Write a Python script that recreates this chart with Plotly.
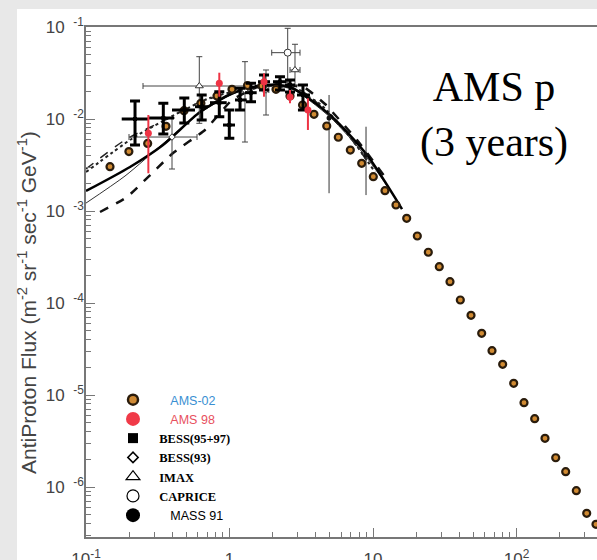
import plotly.graph_objects as go
import numpy as np

# ---------------- data ----------------
ams02_E = [0.147, 0.199, 0.269, 0.361, 0.482, 0.632, 0.818, 1.041, 1.335, 1.685,
           2.109, 2.64, 3.23, 3.88, 4.76, 5.73, 6.95, 8.34, 10.05, 12.12,
           14.46, 17.17, 20.36, 24.29, 28.97, 34.4, 40.6, 48.2, 57.2, 67.5,
           80.1, 95.6, 112.8, 133.9, 158.0, 187.6, 220.2, 261.1, 308.5, 358]
ams02_F = [3.03e-3, 4.43e-3, 5.42e-3, 8.33e-3, 1.231e-2, 1.482e-2, 1.778e-2, 2.103e-2, 2.312e-2, 2.284e-2,
           2.103e-2, 1.778e-2, 1.42e-2, 1.125e-2, 8.39e-3, 6.33e-3, 4.60e-3, 3.30e-3, 2.36e-3, 1.662e-3,
           1.162e-3, 8.33e-4, 5.35e-4, 3.56e-4, 2.48e-4, 1.704e-4, 1.078e-4, 7.35e-5, 4.68e-5, 3.03e-5,
           2.157e-5, 1.340e-5, 8.25e-6, 5.53e-6, 3.38e-6, 2.08e-6, 1.467e-6, 9.12e-7, 5.18e-7, 3.93e-7]

ams98_E = [0.272, 0.849, 1.74, 2.64, 3.52]
ams98_F = [0.00699, 0.02443, 0.02543, 0.01734, 0.01252]
ams98_Flo = [0.00257, 0.01747, 0.01747, 0.01482, 0.0076]
ams98_Fhi = [0.01105, 0.03186, 0.03138, 0.02066, 0.01679]

bess9597_E = [0.2196, 0.3458, 0.4842, 0.640, 0.849, 0.997, 1.184, 1.412, 1.74, 2.248, 2.64, 3.25]
bess9597_Elo = [0.1774, 0.2748, 0.3975, 0.575, 0.731, 0.901, 1.092, 1.282, 1.58, 2.01, 2.437, 2.954]
bess9597_Ehi = [0.2748, 0.4104, 0.575, 0.708, 0.956, 1.092, 1.318, 1.547, 1.915, 2.504, 2.86, 3.64]
bess9597_F = [0.0100, 0.01025, 0.01252, 0.0136, 0.01504, 0.0086, 0.0161, 0.01932, 0.02543, 0.02543, 0.02343, 0.01824]
bess9597_Flo = [0.00522, 0.00687, 0.00905, 0.00975, 0.01059, 0.00617, 0.01252, 0.01542, 0.02066, 0.02066, 0.01966, 0.01252]
bess9597_Fhi = [0.0157, 0.01482, 0.01692, 0.01824, 0.0198, 0.01252, 0.02157, 0.02443, 0.0301, 0.02883, 0.02654, 0.02343]

bess93_E = [0.3975, 1.282, 1.797]
bess93_Elo = [0.1994, 1.22, 1.72]
bess93_Ehi = [0.5938, 1.35, 1.88]
bess93_F = [0.00637, 0.02066, 0.02066]
bess93_Flo = [0.00286, 0.00562, 0.01105]
bess93_Fhi = [0.01025, 0.0420, 0.0341]

imax_E = [0.616, 2.86]
imax_Elo = [0.2496, 2.64]
imax_Ehi = [1.39, 3.10]
imax_F = [0.02284, 0.0341]
imax_Flo = [0.00898, 0.02343]
imax_Fhi = [0.04755, 0.0649]

caprice_E = [2.544]
caprice_Elo = [1.969]
caprice_Ehi = [3.10]
caprice_F = [0.0526]
caprice_Flo = [0.02343]
caprice_Fhi = [0.0968]

mass91_E = [4.94, 8.94]
mass91_F = [0.01025, 0.00406]
mass91_Flo = [0.00156, 0.00149]
mass91_Fhi = [0.01824, 0.00824]

# model curves
curveA_E = [0.1, 0.2026, 0.344, 0.623, 1.058, 1.712, 2.64, 5.01, 9.08, 15.93]
curveA_F = [0.00165, 0.00301, 0.00522, 0.01191, 0.01917, 0.02343, 0.02228, 0.01105, 0.00406, 0.00105]
curveB_E = [0.1, 0.187, 0.355, 0.623, 1.058, 1.712, 2.64, 5.01, 9.08, 15.43]
curveB_F = [0.00122, 0.0024, 0.00562, 0.01162, 0.0187, 0.02284, 0.02173, 0.0105, 0.00377, 0.00116]
curveC_E = [0.1252, 0.193, 0.404, 0.675, 1.041, 1.506, 2.248, 3.36, 4.63, 7.74, 12.12]
curveC_F = [0.000975, 0.00142, 0.00427, 0.0076, 0.0161, 0.02173, 0.0240, 0.02173, 0.01455, 0.00591, 0.00234]
curveD_E = [0.1, 0.2126, 0.452, 0.731, 1.184, 1.768, 2.64, 4.27, 6.92, 10.32]
curveD_F = [0.00265, 0.00621, 0.01191, 0.01692, 0.02066, 0.02284, 0.02173, 0.01455, 0.00637, 0.00265]
curveE_E = [0.1, 0.187, 0.355, 0.623, 1.184, 1.915, 3.10, 5.89, 9.53]
curveE_F = [0.00286, 0.00591, 0.00975, 0.0153, 0.0202, 0.02284, 0.02066, 0.0086, 0.00316]

x_tickvals = [0.1, 1, 10, 100]
x_ticktext = ['10<sup>-1</sup>', '1', '10', '10<sup>2</sup>']
y_tickvals = [1e-6, 1e-5, 1e-4, 1e-3, 1e-2, 1e-1]
y_ticktext = ['10\u2002<sup>-6</sup>', '10\u2002<sup>-5</sup>', '10\u2002<sup>-4</sup>',
              '10\u2002<sup>-3</sup>', '10\u2002<sup>-2</sup>', '10\u2002<sup>-1</sup>']

NB = '\u00a0'
legend_names = [
    "<span style=\"font-family:Liberation Sans, Arial;color:#3a8fd2\">" + NB * 5 + "AMS-02</span>",
    "<span style=\"font-family:Liberation Sans, Arial;color:#e8505e\">" + NB * 5 + "AMS 98</span>",
    NB * 2 + "<b>BESS(95+97)</b>",
    NB * 2 + "<b>BESS(93)</b>",
    NB * 2 + "<b>IMAX</b>",
    NB * 2 + "<b>CAPRICE</b>",
    "<span style=\"font-family:Liberation Sans, Arial\">" + NB * 5 + "MASS 91</span>",
]


def err(center, lo, hi):
    c = np.array(center); l = np.array(lo); h = np.array(hi)
    return (h - c).tolist(), (c - l).tolist()


fig = go.Figure()

# curves
fig.add_trace(go.Scatter(x=curveE_E, y=curveE_F, mode='lines', line=dict(color='#222', width=1.5, dash='dash', shape='spline', smoothing=0.7), showlegend=False))
fig.add_trace(go.Scatter(x=curveD_E, y=curveD_F, mode='lines', line=dict(color='#222', width=2, dash='dot', shape='spline', smoothing=0.7), showlegend=False))
fig.add_trace(go.Scatter(x=curveB_E, y=curveB_F, mode='lines', line=dict(color='#333', width=1, shape='spline', smoothing=0.7), showlegend=False))
fig.add_trace(go.Scatter(x=curveC_E, y=curveC_F, mode='lines', line=dict(color='#111', width=2.5, dash='dash', shape='spline', smoothing=0.4), showlegend=False))
fig.add_trace(go.Scatter(x=curveA_E, y=curveA_F, mode='lines', line=dict(color='#000', width=2.5, shape='spline', smoothing=0.7), showlegend=False))


def thin(E, F, Elo, Ehi, Flo, Fhi, symbol, size):
    yp, ym = err(F, Flo, Fhi)
    xp, xm = err(E, Elo, Ehi)
    fig.add_trace(go.Scatter(
        x=E, y=F, mode='markers', showlegend=False,
        marker=dict(symbol=symbol, size=size, color='white', line=dict(color='#333', width=1)),
        error_y=dict(type='data', symmetric=False, array=yp, arrayminus=ym, color='#444', thickness=1, width=3),
        error_x=dict(type='data', symmetric=False, array=xp, arrayminus=xm, color='#444', thickness=1, width=3)))


thin(bess93_E, bess93_F, bess93_Elo, bess93_Ehi, bess93_Flo, bess93_Fhi, 'diamond', 5)
thin(imax_E, imax_F, imax_Elo, imax_Ehi, imax_Flo, imax_Fhi, 'triangle-up', 7)
thin(caprice_E, caprice_F, caprice_Elo, caprice_Ehi, caprice_Flo, caprice_Fhi, 'circle', 7)

yp, ym = err(mass91_F, mass91_Flo, mass91_Fhi)
fig.add_trace(go.Scatter(x=mass91_E, y=mass91_F, mode='markers', showlegend=False,
                         marker=dict(symbol='circle', size=5, color='#111'),
                         error_y=dict(type='data', symmetric=False, array=yp, arrayminus=ym, color='#333', thickness=1, width=0)))

# AMS-02
fig.add_trace(go.Scatter(x=ams02_E, y=ams02_F, mode='markers', showlegend=False,
                         marker=dict(symbol='circle', size=7, color='#d08a32', line=dict(color='#2a1c0c', width=2.2))))

# BESS 95+97 thick crosses
yp, ym = err(bess9597_F, bess9597_Flo, bess9597_Fhi)
xp, xm = err(bess9597_E, bess9597_Elo, bess9597_Ehi)
fig.add_trace(go.Scatter(x=bess9597_E, y=bess9597_F, mode='markers', showlegend=False,
                         marker=dict(symbol='square', size=4, color='#000'),
                         error_y=dict(type='data', symmetric=False, array=yp, arrayminus=ym, color='#000', thickness=3, width=5),
                         error_x=dict(type='data', symmetric=False, array=xp, arrayminus=xm, color='#000', thickness=3, width=0)))

# AMS 98 red
yp, ym = err(ams98_F, ams98_Flo, ams98_Fhi)
fig.add_trace(go.Scatter(x=ams98_E, y=ams98_F, mode='markers', showlegend=False,
                         marker=dict(symbol='circle', size=7, color='#ee3344'),
                         error_y=dict(type='data', symmetric=False, array=yp, arrayminus=ym, color='#ee3344', thickness=2, width=0)))

# legend-only entries
leg_markers = [
    dict(symbol='circle', size=10, color='#cf8a35', line=dict(color='#2a1c0c', width=2.5)),
    dict(symbol='circle', size=14, color='#f03a48', line=dict(width=0)),
    dict(symbol='square', size=10, color='#000', line=dict(width=0)),
    dict(symbol='diamond-open', size=8, color='#000', line=dict(width=1.5)),
    dict(symbol='triangle-up-open', size=12, color='#000', line=dict(width=1.2)),
    dict(symbol='circle-open', size=12, color='#000', line=dict(width=1.2)),
    dict(symbol='circle', size=14, color='#000', line=dict(width=0)),
]
for name, mk in zip(legend_names, leg_markers):
    fig.add_trace(go.Scatter(x=[None], y=[None], mode='markers', name=name, marker=mk, showlegend=True))

# background strips (grey frame of the original page)
fig.add_shape(type='rect', xref='paper', yref='paper', x0=-0.2, x1=(17 - 86) / 511, y0=-0.1, y1=1.1,
              fillcolor='#e8e8e8', line=dict(width=0), layer='below')
fig.add_shape(type='rect', xref='paper', yref='paper', x0=-0.2, x1=1.1, y0=1 + (27 - 9) / 510, y1=1.1,
              fillcolor='#e8e8e8', line=dict(width=0), layer='below')

fig.add_annotation(text='AMS p<br>(3 years)', xref='paper', yref='paper',
                   x=(494 - 86) / 511, y=1 - (115 - 27) / 510, xanchor='center', yanchor='middle',
                   showarrow=False, font=dict(family='Liberation Serif', size=42, color='#000'))

fig.add_annotation(text='AntiProton Flux (m<sup>-2</sup> sr<sup>-1</sup> sec<sup>-1</sup> GeV<sup>-1</sup>)',
                   xref='paper', yref='paper', x=(27 - 86) / 511, y=1 - (303 - 27) / 510,
                   textangle=-90, xanchor='center', yanchor='middle', showarrow=False,
                   font=dict(family='Liberation Sans', size=21, color='#444'))

minor_x = [m * 10.0 ** d for d in range(-1, 3) for m in range(2, 10)]
minor_y = [m * 10.0 ** d for d in range(-7, -1) for m in range(2, 10)]

fig.update_layout(
    width=597, height=560,
    margin=dict(l=86, r=0, t=27, b=23, autoexpand=False),
    paper_bgcolor='white', plot_bgcolor='white',
    font=dict(family='Liberation Sans', size=17, color='#444'),
    showlegend=True,
    legend=dict(x=(113 - 86) / 511, y=1 - (385 - 27) / 510, xanchor='left', yanchor='top',
                bgcolor='rgba(0,0,0,0)', borderwidth=0,
                font=dict(family='Liberation Serif', size=12.5, color='#000'),
                itemclick=False, itemdoubleclick=False),
    xaxis=dict(type='log', range=[-1, -1 + 511 / 143.5], showgrid=False, zeroline=False, automargin=False,
               showline=True, linecolor='#777', linewidth=1.5, mirror=True,
               ticks='inside', ticklen=9, tickwidth=1, tickcolor='#777',
               tickmode='array', tickvals=x_tickvals, ticktext=x_ticktext,
               ticklabelstandoff=6,
               minor=dict(ticks='inside', ticklen=5, tickcolor='#777', tickmode='array', tickvals=minor_x)),
    yaxis=dict(type='log', range=[-1 - 510 / 92, -1], showgrid=False, zeroline=False, automargin=False,
               showline=True, linecolor='#777', linewidth=1.5,
               ticks='inside', ticklen=9, tickwidth=1, tickcolor='#777',
               tickmode='array', tickvals=y_tickvals, ticktext=y_ticktext,
               ticklabelstandoff=-3,
               minor=dict(ticks='inside', ticklen=5, tickcolor='#777', tickmode='array', tickvals=minor_y)),
)

fig.write_html('out.html', config={'displayModeBar': False},
               post_script="document.body.style.margin='0px';document.body.style.padding='0px';"
                           "document.body.style.overflow='hidden';")
